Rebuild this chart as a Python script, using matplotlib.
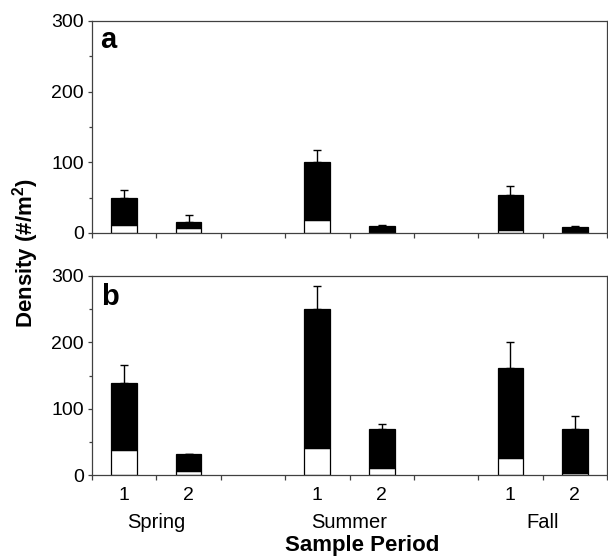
import matplotlib
matplotlib.use("Agg")
import matplotlib.pyplot as plt
import numpy as np

plt.rcParams['font.family'] = ['Liberation Sans', 'DejaVu Sans']

# Data
periods = ["1", "2", "1", "2", "1", "2"]
seasons = ["Spring", "Summer", "Fall"]
bar_x = [0.5, 1.5, 3.5, 4.5, 6.5, 7.5]
season_x = [1.0, 4.0, 7.0]

a_total = [49, 15, 100, 10.5, 54, 8]
a_white = [11.5, 7, 19, 0, 4, 0]
a_err = [12, 10, 17, 1.5, 12, 2]

b_total = [139, 31, 250, 69, 162, 69]
b_white = [38, 6.5, 41, 10, 25, 2.5]
b_err = [27, 0, 35, 8, 38, 20]

W, H = 608, 557
fig = plt.figure(figsize=(W / 100, H / 100), dpi=100)

def px_axes(left, top, right, bottom):
    return fig.add_axes([left / W, 1 - bottom / H, (right - left) / W, (bottom - top) / H])

ax_a = px_axes(92, 21, 607, 233)
ax_b = px_axes(92, 276, 607, 475)

spine_col = '#404040'

def draw(ax, total, white, err, label, show_labels, label_pos):
    black_part = [t - w for t, w in zip(total, white)]
    ax.bar(bar_x, white, width=0.4, color='white', edgecolor='black', linewidth=0.9, zorder=2)
    ax.bar(bar_x, black_part, bottom=white, width=0.4, color='black', edgecolor='black',
           linewidth=0.9, zorder=2)
    lower = [0] * len(err)
    ax.errorbar(bar_x, total, yerr=[lower, err], fmt='none', ecolor='black', elinewidth=1.0,
                capsize=3, capthick=1.0, zorder=1)
    ax.set_xlim(0, 8)
    ax.set_ylim(0, 300)
    ax.set_yticks([0, 100, 200, 300])
    ax.set_yticks([50, 150, 250], minor=True)
    ax.set_xticks(range(0, 9))
    ax.set_xticklabels([])
    ax.set_xticks(bar_x, minor=True)
    if show_labels:
        ax.set_xticklabels(periods, minor=True)
    else:
        ax.set_xticklabels([], minor=True)
    ax.tick_params(axis='y', which='major', direction='out', length=3, width=0.9,
                   labelsize=14, pad=3, color=spine_col)
    ax.tick_params(axis='y', which='minor', direction='out', length=2, width=0.9, color=spine_col)
    ax.tick_params(axis='x', which='major', direction='out', length=3.5, width=0.9,
                   color=spine_col)
    ax.tick_params(axis='x', which='minor', length=0, labelsize=14, pad=9)
    for s in ax.spines.values():
        s.set_color(spine_col)
        s.set_linewidth(0.9)
    ax.text(label_pos[0], label_pos[1], label, transform=ax.transAxes, fontsize=21,
            fontweight='bold', va='baseline', ha='left')
    return ax

draw(ax_a, a_total, a_white, a_err, 'a', False, (8 / 515, 1 - 27 / 212))
draw(ax_b, b_total, b_white, b_err, 'b', True, (9 / 515, 1 - 29 / 199))

for sx, sname in zip(season_x, seasons):
    ax_b.annotate(sname, xy=(sx, 0), xycoords=('data', 'axes fraction'),
                  xytext=(0, -53 * 0.72), textcoords='offset points',
                  ha='center', va='baseline', fontsize=14.5)

fig.text(26 / W, 1 - 253 / H, 'Density (#/m$^\\mathregular{2}$)', rotation=90, ha='center',
         va='center', fontsize=16, fontweight='bold')
fig.text(362 / W, 1 - 551 / H, 'Sample Period', ha='center', va='baseline', fontsize=16,
         fontweight='bold')

fig.savefig('out.png', dpi=100)
